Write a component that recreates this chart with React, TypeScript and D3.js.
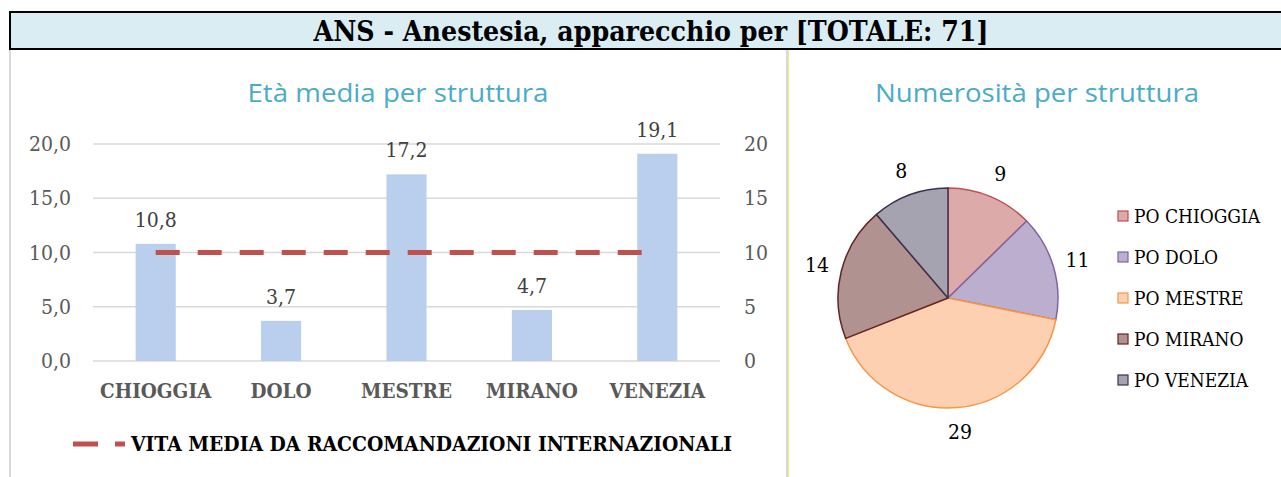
import React from 'react';
import * as d3 from 'd3';

// bar chart data
const categories = ['CHIOGGIA', 'DOLO', 'MESTRE', 'MIRANO', 'VENEZIA'];
const etaMedia = [10.8, 3.7, 17.2, 4.7, 19.1];
const vitaMedia = [10, 10, 10, 10, 10];
const leftTicks = [0, 5, 10, 15, 20];
const rightTicks = [0, 5, 10, 15, 20];

// pie data
const pieLabels = ['PO CHIOGGIA', 'PO DOLO', 'PO MESTRE', 'PO MIRANO', 'PO VENEZIA'];
const pieValues = [9, 11, 29, 14, 8];
const pieStroke = ['#c0504d', '#8064a2', '#f79646', '#632523', '#3f3151'];
const pieTop = ['#dcaaa9', '#bcaecf', '#fdd0b2', '#b09291', '#a6a3b0'];
const pieBottom = ['#d38c8a', '#a390bd', '#fbb07f', '#9d7876', '#8a8699'];

const W = 1281;
const H = 477;
const serif = "'DejaVu Serif Condensed', 'Liberation Serif', serif";
const sans = "'Open Sans', 'Noto Sans', sans-serif";

const App = () => {
  // bar chart scales
  const x = d3.scaleBand<string>().domain(categories).range([93, 720]);
  const y = d3.scaleLinear().domain([0, 20]).range([361, 144]);
  const y2 = d3.scaleLinear().domain([0, 20]).range([361, 144]);
  const barW = x.bandwidth() * 0.32;
  const cx = (c: string) => (x(c) ?? 0) + x.bandwidth() / 2;
  const fmt = (v: number) => d3.format('.1f')(v).replace('.', ',');

  const line = d3.line<number>()
    .x((_, i) => cx(categories[i]))
    .y(d => y2(d));

  // pie
  const pc = { x: 948, y: 298 };
  const r = 110;
  const pie = d3.pie<number>().sort(null)(pieValues);
  const arc = d3.arc<d3.PieArcDatum<number>>().innerRadius(0).outerRadius(r);
  const labelArc = d3.arc<d3.PieArcDatum<number>>().innerRadius(135).outerRadius(135);

  return (
    <svg width={W} height={H} style={{ position: 'absolute', left: 0, top: 0, background: '#fff' }}>
      <defs>
        {pieValues.map((_, i) => (
          <linearGradient key={i} id={`pg${i}`} gradientUnits="userSpaceOnUse" x1={0} y1={pc.y - r} x2={0} y2={pc.y + r}>
            <stop offset="0%" stopColor={pieTop[i]} />
            <stop offset="100%" stopColor={pieBottom[i]} />
          </linearGradient>
        ))}
      </defs>

      {/* header */}
      <rect x={10} y={12} width={W} height={37} fill="#daedf3" stroke="#000" strokeWidth={2} />
      <text x={651} y={41} textAnchor="middle" fontFamily={serif} fontWeight="bold" fontSize={28}
        textLength={675} lengthAdjust="spacingAndGlyphs" fill="#000">
        ANS - Anestesia, apparecchio per [TOTALE: 71]
      </text>

      {/* panel borders */}
      <line x1={10} x2={10} y1={50} y2={H} stroke="#d9d9d9" strokeWidth={2} />
      <line x1={787} x2={787} y1={50} y2={H} stroke="#d9d9d9" strokeWidth={2} />
      <line x1={788.5} x2={788.5} y1={50} y2={H} stroke="#f2ea6b" strokeWidth={1} />

      {/* bar chart title */}
      <text x={398} y={102} textAnchor="middle" fontFamily={sans} fontSize={26} fill="#4bacc6"
        textLength={301} lengthAdjust="spacingAndGlyphs">Età media per struttura</text>

      {/* grid */}
      {leftTicks.map(t => (
        <line key={t} x1={93} x2={720} y1={y(t)} y2={y(t)} stroke="#d9d9d9" strokeWidth={1.5} />
      ))}
      {leftTicks.map(t => (
        <text key={t} x={71} y={y(t) + 7} textAnchor="end" fontFamily={serif} fontSize={21} fill="#595959">{fmt(t)}</text>
      ))}
      {rightTicks.map(t => (
        <text key={t} x={744} y={y2(t) + 7} fontFamily={serif} fontSize={21} fill="#595959">{t}</text>
      ))}

      {/* bars */}
      {categories.map((c, i) => (
        <g key={c}>
          <rect x={cx(c) - barW / 2} y={y(etaMedia[i])} width={barW} height={y(0) - y(etaMedia[i])} fill="#b9cfed" />
          <text x={cx(c)} y={y(etaMedia[i]) - 17} textAnchor="middle" fontFamily={serif} fontSize={21} fill="#404040">{fmt(etaMedia[i])}</text>
          <text x={cx(c)} y={398} textAnchor="middle" fontFamily={serif} fontWeight="bold" fontSize={20.5} fill="#595959">{c}</text>
        </g>
      ))}

      {/* reference line */}
      <path d={line(vitaMedia) ?? ''} fill="none" stroke="#c0504d" strokeWidth={5} strokeDasharray="24 18" />

      {/* legend */}
      <line x1={73} x2={125} y1={444} y2={444} stroke="#c0504d" strokeWidth={5} strokeDasharray="25 17" />
      <text x={131} y={451} fontFamily={serif} fontWeight="bold" fontSize={20} fill="#000"
        textLength={601} lengthAdjust="spacingAndGlyphs">VITA MEDIA DA RACCOMANDAZIONI INTERNAZIONALI</text>

      {/* pie title */}
      <text x={1037} y={102} textAnchor="middle" fontFamily={sans} fontSize={26} fill="#4bacc6"
        textLength={324} lengthAdjust="spacingAndGlyphs">Numerosità per struttura</text>

      {/* pie */}
      <g transform={`translate(${pc.x},${pc.y})`}>
        {pie.map((s, i) => (
          <path key={i} d={arc(s) ?? ''} fill={`url(#pg${i})`} stroke={pieStroke[i]} strokeWidth={1.5} strokeLinejoin="round" />
        ))}
        {pie.map((s, i) => {
          const [lx, ly] = labelArc.centroid(s);
          return (
            <text key={i} x={lx} y={ly + 7} textAnchor="middle" fontFamily={serif} fontSize={21} fill="#000">{pieValues[i]}</text>
          );
        })}
      </g>

      {/* pie legend */}
      {pieLabels.map((l, i) => (
        <g key={l} transform={`translate(1118,${216 + i * 41})`}>
          <rect x={0} y={-5} width={10} height={10} fill={`url(#pg${i})`} stroke={pieStroke[i]} strokeWidth={1.2} />
          <text x={16} y={7} fontFamily={serif} fontSize={19} fill="#000">{l}</text>
        </g>
      ))}
    </svg>
  );
};

export default App;
